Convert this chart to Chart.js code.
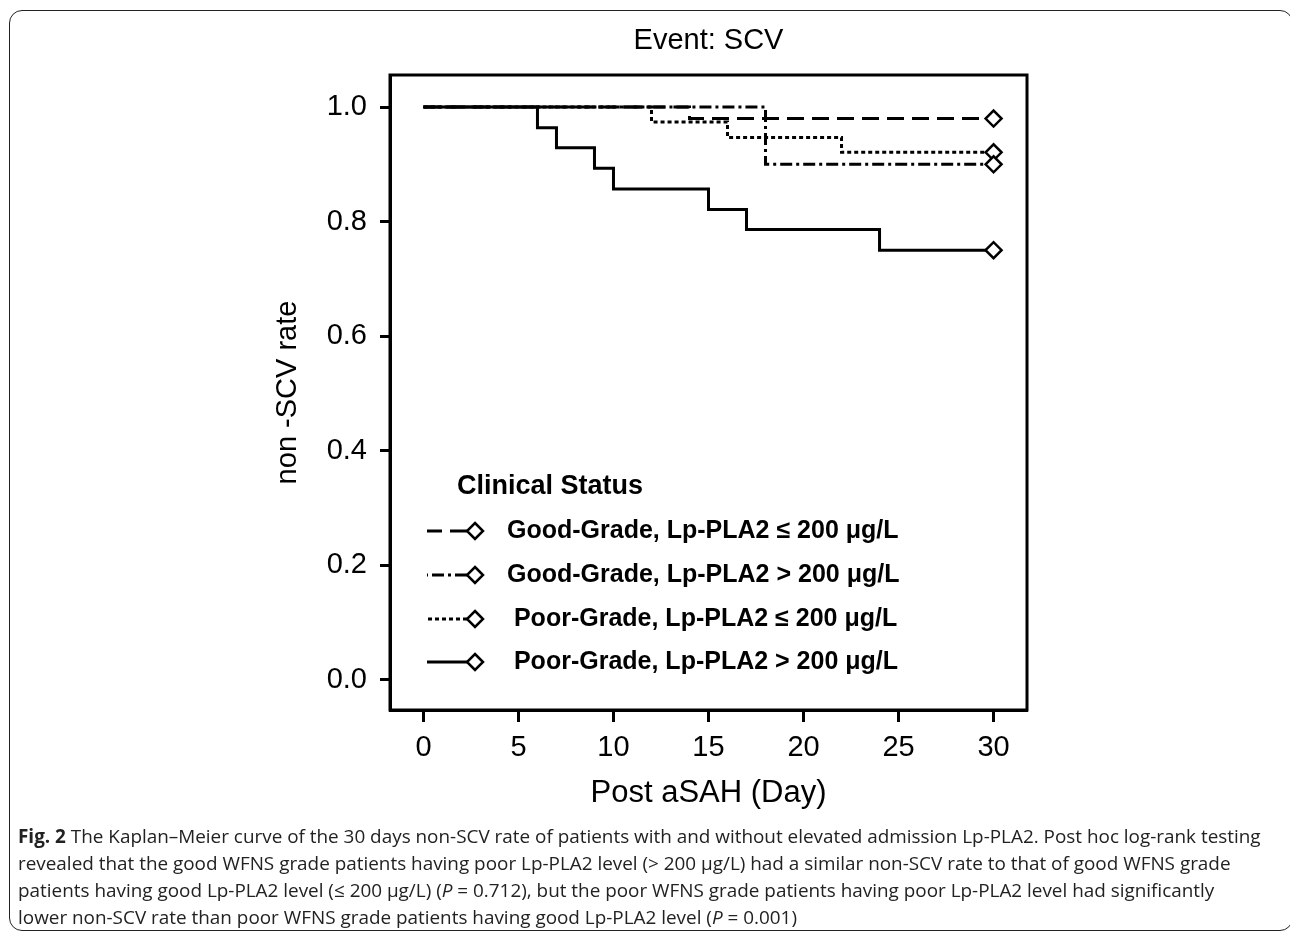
<!DOCTYPE html>
<html>
<head>
<meta charset="utf-8">
<script src="https://cdn.jsdelivr.net/npm/chart.js@4.4.1/dist/chart.umd.min.js"></script>
<style>
  body { margin: 0; background: #fff; }
  #wrap { position: relative; width: 1290px; height: 934px; overflow: hidden; }
  #frame {
    position: absolute; left: 9px; top: 10px; width: 1282px; height: 919px;
    border: 1.5px solid #222; border-radius: 13px;
  }
  #chart { position: absolute; left: 0; top: 0; }
  #caption {
    position: absolute; left: 18px; top: 823px; white-space: nowrap;
    font-family: "Open Sans", sans-serif; font-size: 18.9px; line-height: 27px; color: #222;
  }
</style>
</head>
<body>
<div id="wrap">
  <div id="frame"></div>
  <canvas id="chart" width="1290" height="934"></canvas>
  <div id="caption">
    <b>Fig. 2</b> The Kaplan–Meier curve of the 30 days non-SCV rate of patients with and without elevated admission Lp-PLA2. Post hoc log-rank testing<br>
    revealed that the good WFNS grade patients having poor Lp-PLA2 level (&gt; 200 μg/L) had a similar non-SCV rate to that of good WFNS grade<br>
    patients having good Lp-PLA2 level (≤ 200 μg/L) (<i>P</i> = 0.712), but the poor WFNS grade patients having poor Lp-PLA2 level had significantly<br>
    lower non-SCV rate than poor WFNS grade patients having good Lp-PLA2 level (<i>P</i> = 0.001)
  </div>
</div>
<script>
// data (Kaplan-Meier steps: day of event, survival after it)
const seriesLabels = [
  "Good-Grade, Lp-PLA2 ≤ 200 μg/L",
  "Good-Grade, Lp-PLA2 > 200 μg/L",
  " Poor-Grade, Lp-PLA2 ≤ 200 μg/L",
  " Poor-Grade, Lp-PLA2 > 200 μg/L",
];
const goodLowDays = [0, 14, 30];
const goodLowRates = [1.0, 0.98, 0.98];
const goodHighDays = [0, 18, 30];
const goodHighRates = [1.0, 0.9, 0.9];
const poorLowDays = [0, 12, 16, 22, 30];
const poorLowRates = [1.0, 0.974, 0.947, 0.921, 0.921];
const poorHighDays = [0, 6, 7, 9, 10, 15, 17, 24, 30];
const poorHighRates = [1.0, 0.964, 0.929, 0.893, 0.857, 0.821, 0.786, 0.75, 0.75];

const xTicks = [0, 5, 10, 15, 20, 25, 30];
const yTicks = [0, 0.2, 0.4, 0.6, 0.8, 1.0];

const FONT = '"Liberation Sans", Arial, sans-serif';
Chart.defaults.font.family = FONT;
Chart.defaults.color = "#000";

function toPoints(days, rates) {
  return days.map((d, i) => ({ x: d, y: rates[i] }));
}

function makeSet(label, days, rates, dash) {
  return {
    label: label,
    data: toPoints(days, rates),
    stepped: true,
    borderColor: "#000",
    borderWidth: 3,
    borderDash: dash,
    pointStyle: "rectRot",
    pointRadius: days.map((d, i) => (i === days.length - 1 ? 8 : 0)),
    pointBackgroundColor: "#fff",
    pointBorderColor: "#000",
    pointBorderWidth: 2.5,
  };
}

const datasets = [
  makeSet(seriesLabels[0], goodLowDays, goodLowRates, [17, 8]),
  makeSet(seriesLabels[1], goodHighDays, goodHighRates, [12, 4, 3, 4]),
  makeSet(seriesLabels[2], poorLowDays, poorLowRates, [4, 3]),
  makeSet(seriesLabels[3], poorHighDays, poorHighRates, []),
];

// box, title and in-plot legend
const decorations = {
  id: "decorations",
  afterDraw(chart) {
    const { ctx, chartArea: a } = chart;
    ctx.save();
    ctx.strokeStyle = "#000";
    ctx.lineWidth = 3;
    ctx.strokeRect(a.left, a.top, a.right - a.left, a.bottom - a.top);

    ctx.fillStyle = "#000";
    ctx.textAlign = "center";
    ctx.textBaseline = "alphabetic";
    ctx.font = "29px " + FONT;
    ctx.fillText("Event: SCV", (a.left + a.right) / 2, 49);

    ctx.textAlign = "left";
    ctx.textBaseline = "middle";
    ctx.font = "bold 27px " + FONT;
    ctx.fillText("Clinical Status", a.left + 67, 487);

    ctx.font = "bold 25px " + FONT;
    const rowY = [531, 575, 619, 662];
    const dx = a.left + 85;
    chart.data.datasets.forEach((ds, i) => {
      const y = rowY[i];
      ctx.lineWidth = 3;
      ctx.setLineDash(ds.borderDash);
      ctx.beginPath();
      ctx.moveTo(dx - 8, y);
      ctx.lineTo(a.left + 37, y);
      ctx.stroke();
      ctx.setLineDash([]);
      ctx.lineWidth = 2.5;
      ctx.beginPath();
      ctx.moveTo(dx, y - 8);
      ctx.lineTo(dx + 8, y);
      ctx.lineTo(dx, y + 8);
      ctx.lineTo(dx - 8, y);
      ctx.closePath();
      ctx.fillStyle = "#fff";
      ctx.fill();
      ctx.stroke();
      ctx.fillStyle = "#000";
      ctx.fillText(ds.label, a.left + 117, y);
    });
    ctx.restore();
  },
};

const config = {
  type: "line",
  data: { datasets },
  plugins: [decorations],
  options: {
    responsive: false,
    animation: false,
    layout: { padding: { left: 271, right: 263, top: 75, bottom: 122 } },
    plugins: {
      legend: { display: false },
      title: { display: false },
      tooltip: { enabled: false },
    },
    scales: {
      x: {
        type: "linear",
        min: -1.76,
        max: 31.76,
        afterBuildTicks: (scale) => {
          scale.ticks = xTicks.map((v) => ({ value: v }));
        },
        afterFit: (scale) => {
          scale.height = 102;
        },
        grid: {
          drawOnChartArea: false,
          drawTicks: true,
          tickLength: 12,
          tickWidth: 3,
          tickColor: "#000",
        },
        border: { display: true, color: "#000", width: 3 },
        ticks: { font: { size: 29 }, padding: 9, color: "#000", maxRotation: 0 },
        title: {
          display: true,
          text: "Post aSAH (Day)",
          font: { size: 31 },
          color: "#000",
          padding: 0,
        },
      },
      y: {
        type: "linear",
        min: -0.053,
        max: 1.056,
        afterBuildTicks: (scale) => {
          scale.ticks = yTicks.map((v) => ({ value: v }));
        },
        afterFit: (scale) => {
          scale.width = 119;
        },
        grid: {
          drawOnChartArea: false,
          drawTicks: true,
          tickLength: 10,
          tickWidth: 3,
          tickColor: "#000",
        },
        border: { display: true, color: "#000", width: 3 },
        ticks: {
          font: { size: 29 },
          padding: 13,
          color: "#000",
          callback: (v) => v.toFixed(1),
        },
        title: {
          display: true,
          text: "non -SCV rate",
          font: { size: 29 },
          color: "#000",
          padding: 0,
        },
      },
    },
  },
};

new Chart(document.getElementById("chart"), config);
</script>
</body>
</html>
